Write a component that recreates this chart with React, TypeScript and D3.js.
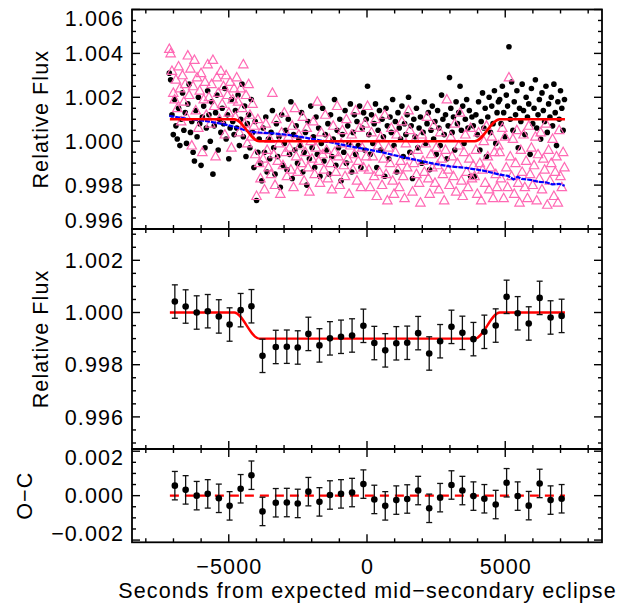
import React from "react";
import * as d3 from "d3";

const W = 633;
const H = 606;

// ---------- top panel: unbinned photometry ----------
const T_START = -7150;
const T_STEP = 47.8;

// raw flux (pink triangles)
const RAW_FLUX = [
  1.0042, 1.0040, 1.0032, 1.0022, 1.0019, 1.0028, 1.0015, 1.0034, 1.0024, 1.0009,
  1.0030, 1.0018, 1.0026, 1.0011, 1.0039, 1.0021, 1.0033, 0.9998, 1.0025, 1.0037,
  1.0014, 1.0029, 1.0006, 1.0023, 1.0031, 0.9995, 1.0019, 1.0027, 1.0012, 1.0035,
  1.0020, 1.0008, 1.0026, 1.0037, 1.0016, 0.9993, 1.0029, 1.0022, 1.0010, 1.0032,
  1.0017, 1.0025, 1.0003, 1.0030, 1.0021, 1.0013, 1.0027, 0.9997, 1.0019, 1.0024,
  1.0011, 1.0029, 1.0018, 1.0004, 1.0024, 1.0015, 1.0035, 1.0008, 1.0021, 0.9999,
  1.0026, 1.0012, 1.0002, 1.0017, 1.0007, 0.9994, 0.9975, 1.0010, 0.9990,
  0.9983, 1.0005, 0.9992, 0.9978, 1.0008, 0.9996, 0.9988, 1.0001, 0.9985, 1.0022,
  0.9994, 0.9980, 1.0010, 0.9991, 0.9999, 0.9976, 1.0004, 0.9989, 1.0013, 0.9995,
  0.9984, 1.0002, 0.9997, 0.9987, 1.0007, 0.9979, 1.0015, 0.9993, 0.9986, 1.0003,
  0.9998, 0.9990, 1.0011, 0.9982, 0.9995, 1.0006, 0.9988, 0.9977, 1.0000, 0.9992,
  1.0009, 0.9985, 0.9997, 1.0018, 0.9991, 0.9981, 1.0004, 0.9994, 0.9987, 1.0012,
  0.9996, 0.9983, 1.0001, 0.9990, 0.9978, 1.0007, 0.9995, 0.9986, 1.0016, 0.9993,
  0.9980, 0.9999, 1.0005, 0.9989, 0.9984, 1.0010, 0.9992, 0.9976, 0.9998, 1.0003,
  0.9987, 0.9994, 1.0014, 0.9982, 0.9991, 1.0006, 0.9979, 0.9997, 0.9988, 1.0008,
  0.9993,
  1.0016, 0.9987, 0.9979, 1.0004, 0.9993, 0.9984, 1.0010, 0.9975, 0.9998, 0.9986,
  1.0002, 0.9980, 0.9992, 1.0012, 0.9985, 0.9973, 0.9997, 0.9990, 1.0006, 0.9982,
  0.9976, 0.9995, 1.0003, 0.9987, 0.9979, 0.9991, 1.0009, 0.9984, 0.9974, 0.9999,
  0.9988, 1.0014, 1.0005, 0.9993, 0.9977, 0.9990, 1.0001, 0.9985, 0.9996, 0.9981,
  0.9972, 1.0003, 0.9991, 0.9986, 0.9999, 1.0011, 0.9983, 0.9976, 0.9994, 0.9988,
  1.0007, 0.9981, 0.9997, 0.9989, 0.9978, 1.0004, 0.9992, 0.9985, 0.9973, 0.9996,
  1.0019, 0.9987, 0.9980, 1.0002, 0.9993, 0.9984, 1.0008, 0.9977, 0.9990, 0.9998,
  1.0013, 0.9982, 0.9975, 0.9995, 1.0003, 0.9986, 0.9979, 0.9992, 1.0006, 0.9983,
  0.9989,
  0.9984, 0.9996, 0.9976, 1.0004, 0.9990, 0.9973, 0.9987, 1.0000, 0.9981, 1.0007,
  0.9993, 0.9978, 0.9988, 1.0002, 0.9974, 0.9995, 0.9985, 0.9979, 0.9998,
  0.9995, 0.9983, 1.0006, 0.9974, 1.0002, 0.9988, 0.9979, 1.0029, 0.9993, 0.9984,
  1.0001, 0.9976, 0.9990, 1.0005, 0.9981, 0.9972, 0.9996, 0.9986, 1.0003, 0.9979,
  0.9991, 0.9974, 1.0007, 0.9985, 0.9997, 0.9980, 0.9989, 1.0002, 0.9973, 0.9994,
  0.9983, 1.0004, 0.9978, 0.9992, 0.9987, 1.0008, 0.9971, 0.9996, 0.9982, 0.9990,
  1.0001, 0.9975, 0.9986, 0.9993, 0.9972, 1.0005, 0.9984, 0.9979, 0.9995, 0.9988,
];

// corrected flux (black dots)
const CORR_FLUX = [
  1.0031, 1.0028, 1.0012, 1.0003, 1.0019, 1.0007, 1.0001, 1.0015, 0.9998, 1.0010,
  1.0022, 1.0005, 1.0013, 0.9999, 1.0017, 1.0026, 1.0004, 1.0009, 0.9995, 0.9991,
  1.0014, 1.0002, 1.0020, 1.0008, 0.9989, 1.0011, 1.0016, 0.9997, 1.0006, 1.0023,
  1.0012, 1.0000, 1.0018, 0.9985, 1.0007, 1.0013, 1.0021, 0.9996, 1.0010, 1.0004,
  1.0015, 1.0008, 1.0024, 1.0001, 1.0012, 0.9992, 1.0006, 1.0019, 1.0009, 1.0003,
  1.0014, 1.0006, 1.0021, 0.9998, 1.0010, 1.0026, 1.0002, 1.0016, 0.9993, 1.0008,
  1.0012, 0.9997, 1.0019, 1.0004, 0.9988, 1.0009, 0.9973, 0.9995, 1.0001,
  0.9990, 0.9982, 1.0006, 0.9995, 1.0011, 0.9986, 1.0001, 0.9992, 1.0004, 1.0014,
  0.9997, 0.9985, 1.0008, 0.9993, 1.0002, 0.9979, 1.0012, 0.9989, 0.9999, 1.0005,
  0.9987, 1.0010, 0.9994, 1.0018, 0.9983, 1.0003, 0.9996, 1.0007, 0.9990, 1.0001,
  0.9998, 1.0013, 0.9986, 0.9995, 1.0004, 0.9980, 1.0009, 0.9992, 1.0016, 0.9997,
  1.0002, 0.9988, 1.0011, 0.9994, 1.0006, 0.9984, 0.9999, 1.0015, 0.9991, 1.0003,
  0.9996, 1.0008, 0.9985, 1.0012, 0.9993, 1.0001, 1.0019, 0.9989, 1.0005, 0.9997,
  1.0010, 0.9982, 1.0003, 0.9995, 1.0014, 0.9990, 1.0007, 0.9999, 1.0017, 0.9986,
  1.0004, 1.0012, 0.9994, 1.0009, 0.9998, 1.0016, 0.9988, 1.0006, 1.0013, 0.9996,
  1.0010,
  1.0025, 1.0003, 0.9994, 1.0012, 0.9999, 1.0008, 1.0017, 0.9988, 1.0005, 1.0014,
  0.9996, 1.0010, 1.0002, 0.9984, 1.0015, 1.0007, 0.9992, 1.0011, 1.0004, 1.0019,
  0.9998, 1.0009, 0.9986, 1.0013, 1.0006, 1.0001, 1.0016, 0.9993, 1.0008, 1.0003,
  1.0012, 1.0020, 0.9995, 1.0007, 0.9983, 1.0010, 1.0002, 1.0015, 0.9997, 1.0006,
  1.0011, 0.9990, 1.0004, 1.0018, 0.9999, 1.0008, 1.0013, 0.9987, 1.0005, 1.0016,
  1.0001, 1.0009, 0.9994, 1.0014, 1.0006, 0.9998, 1.0021, 1.0010, 1.0003, 1.0012,
  0.9992, 1.0007, 1.0029, 1.0015, 1.0004, 1.0011, 0.9996, 1.0018, 1.0008, 1.0013,
  1.0025, 1.0005, 1.0016, 0.9999, 1.0010, 1.0019, 1.0006, 1.0014, 0.9984, 1.0011,
  1.0007,
  0.9984, 1.0012, 1.0003, 1.0018, 0.9996, 1.0009, 1.0022, 1.0006, 1.0015, 0.9993,
  1.0011, 1.0020, 1.0004, 1.0016, 1.0008, 1.0023, 0.9999, 1.0013, 1.0018,
  1.0019, 1.0008, 1.0025, 1.0013, 1.0002, 1.0021, 1.0016, 1.0043, 1.0010, 1.0027,
  1.0005, 1.0018, 1.0012, 1.0023, 0.9997, 1.0015, 1.0009, 1.0026, 1.0014, 1.0003,
  1.0020, 1.0011, 1.0017, 0.9994, 1.0024, 1.0008, 1.0015, 1.0028, 1.0006, 1.0012,
  1.0019, 1.0001, 1.0022, 1.0014, 1.0009, 1.0025, 1.0004, 1.0017, 1.0011, 1.0020,
  1.0007, 1.0026, 1.0013, 0.9998, 1.0018, 1.0010, 1.0023, 1.0015, 1.0005, 1.0019,
];

// systematic ramp (blue)
const RAMP_T = [
  -7150, -6800, -6400, -6000, -5500, -5000, -4600, -4300, -4000, -3400, -2800, -2400,
  -1800, -1200, -600, 0, 600, 1200, 1800, 2400, 3000, 3600, 4200, 4800, 5100, 5300,
  5450, 5600, 5900, 6200, 6500, 6700, 6950, 7150,
];
const RAMP_F = [
  1.00115, 1.00108, 1.001, 1.00095, 1.00085, 1.00072, 1.00058, 1.00045, 1.0004, 1.00036,
  1.00028, 1.0002, 1.00006, 0.99992, 0.99976, 0.99963, 0.99948, 0.9993, 0.99914, 0.99898,
  0.99885, 0.99878, 0.99866, 0.99848, 0.99842, 0.99826, 0.99838, 0.99828, 0.99824, 0.99815,
  0.99812, 0.99803, 0.99806, 0.99797,
];

// eclipse model (red)
const MODEL_T = [-7130, -4800, -3900, 3900, 4800, 7160];
const MODEL_TOP = [1.001, 1.001, 1.0, 1.0, 1.001, 1.001];
const MODEL_MID = [1.0, 1.0, 0.999, 0.999, 1.0, 1.0];

// ---------- middle panel: binned ----------
const BIN_T = [
  -6950, -6560, -6160, -5760, -5360, -4970, -4570, -4180, -3780, -3300, -2900, -2505,
  -2120, -1720, -1340, -940, -540, -130, 265, 660, 1060, 1455, 1850, 2250, 2645, 3055,
  3450, 3850, 4245, 4655, 5050, 5450, 5850, 6245, 6640, 7040,
];
const BIN_F = [
  1.00042, 1.00023, 1.0, 1.00005, 0.99985, 0.99954, 1.00009, 1.00024, 0.99834, 0.99868,
  0.99869, 0.99866, 0.99918, 0.99874, 0.99901, 0.99907, 0.99912, 0.99949, 0.99883, 0.99855,
  0.99882, 0.99884, 0.99921, 0.99843, 0.9989, 0.99945, 0.99922, 0.99898, 0.99926, 0.9995,
  1.0006, 0.99997, 0.99958, 1.00056, 0.99981, 0.99987,
];
const BIN_ERR = 0.00064;

// ---------- bottom panel: residuals ----------
const RESID = [
  0.00045, 0.00026, 0.0, 0.00008, -0.00012, -0.00046, 0.00031, 0.00092, -0.00071, -0.00032,
  -0.00031, -0.00035, 0.00018, -0.00028, 0.00003, 0.00008, 0.00014, 0.00052, -0.00017, -0.00046,
  -0.0002, -0.00015, 0.00023, -0.00057, -0.00009, 0.00048, 0.00023, -0.00002, -0.00014, -0.0004,
  0.00058, -0.00002, -0.00045, 0.00055, -0.0002, -0.00014,
];

// axes
const X_DOMAIN = [-8500, 8500];
const X_MAJOR = [-5000, 0, 5000];
const X_LABELS = ["\u22125000", "0", "5000"];
const TOP_DOMAIN = [0.996, 1.006];
const TOP_MAJOR = [0.996, 0.998, 1.0, 1.002, 1.004, 1.006];
const TOP_LABELS = ["0.996", "0.998", "1.000", "1.002", "1.004", "1.006"];
const MID_DOMAIN = [0.99477, 1.0032];
const MID_MAJOR = [0.996, 0.998, 1.0, 1.002];
const MID_LABELS = ["0.996", "0.998", "1.000", "1.002"];
const OC_DOMAIN = [-0.0021, 0.0021];
const OC_MAJOR = [-0.002, 0, 0.002];
const OC_LABELS = ["\u22120.002", "0.000", "0.002"];

const L = 132;
const R = 602;
const FONT = "'Liberation Sans', Arial, Helvetica, sans-serif";
const FS = 21.5;
const LS = 1.1;
const CAP = FS * 0.358;
const PINK = "#ff69b4";
const RED = "#ff0000";
const BLUE = "#0000ff";

const x = d3.scaleLinear().domain(X_DOMAIN).range([L, R]);

function minorTicks(domain: number[], step: number) {
  const lo = Math.ceil(domain[0] / step - 1e-9);
  const hi = Math.floor(domain[1] / step + 1e-9);
  return d3.range(lo, hi + 1).map((k) => k * step);
}

function Frame({ y0, y1, y, majors, labels, minorStep }: any) {
  const xMinor = minorTicks(X_DOMAIN, 1000);
  const yMinor = minorTicks(y.domain(), minorStep);
  const isMajorX = (v: number) => X_MAJOR.some((m) => Math.abs(m - v) < 1e-6);
  const isMajorY = (v: number) => majors.some((m: number) => Math.abs(m - v) < minorStep / 100);
  const els: any[] = [];
  xMinor.forEach((v, i) => {
    const len = isMajorX(v) ? 8 : 4;
    const px = x(v);
    els.push(<line key={"xb" + i} x1={px} x2={px} y1={y1} y2={y1 - len} />);
    els.push(<line key={"xt" + i} x1={px} x2={px} y1={y0} y2={y0 + len} />);
  });
  yMinor.forEach((v, i) => {
    const len = isMajorY(v) ? 8 : 4;
    const py = y(v);
    els.push(<line key={"yl" + i} x1={L} x2={L + len} y1={py} y2={py} />);
    els.push(<line key={"yr" + i} x1={R} x2={R - len} y1={py} y2={py} />);
  });
  return (
    <g>
      <g stroke="#000" strokeWidth={1.4}>{els}</g>
      <rect x={L} y={y0} width={R - L} height={y1 - y0} fill="none" stroke="#000" strokeWidth={1.8} />
      <g fontFamily={FONT} fontSize={FS} letterSpacing={LS} fill="#000" textAnchor="end">
        {majors.map((v: number, i: number) => {
          const cy = Math.min(Math.max(y(v), y0 + 8.5), y1 - 8.5);
          return (
            <text key={"lab" + i} x={123 + LS} y={cy + CAP}>
              {labels[i]}
            </text>
          );
        })}
      </g>
    </g>
  );
}

export default function App() {
  const TOP = [9.5, 229];
  const MID = [229, 449];
  const BOT = [449, 542.3];
  const yTop = d3.scaleLinear().domain(TOP_DOMAIN).range([TOP[1], TOP[0]]);
  const yMid = d3.scaleLinear().domain(MID_DOMAIN).range([MID[1], MID[0]]);
  const yOc = d3.scaleLinear().domain(OC_DOMAIN).range([BOT[1], BOT[0]]);

  const times = RAW_FLUX.map((_, i) => T_START + i * T_STEP);

  const rampLine = d3
    .line<number>()
    .x((_, i) => x(RAMP_T[i]))
    .y((d) => yTop(d));
  const modelTop = d3
    .line<number>()
    .x((_, i) => x(MODEL_T[i]))
    .y((d) => yTop(d))
    .curve(d3.curveMonotoneX);
  const modelMid = d3
    .line<number>()
    .x((_, i) => x(MODEL_T[i]))
    .y((d) => yMid(d))
    .curve(d3.curveMonotoneX);

  const tri = (cx: number, cy: number) =>
    `M${cx},${cy - 5}L${cx + 4.7},${cy + 3.4}L${cx - 4.7},${cy + 3.4}Z`;

  return (
    <svg
      width={W}
      height={H}
      style={{ position: "absolute", left: 0, top: 0, background: "#fff" }}
      xmlns="http://www.w3.org/2000/svg"
    >
      <rect x={0} y={0} width={W} height={H} fill="#fff" />

      {/* top panel */}
      <g>
        {CORR_FLUX.map((v, i) => (
          <circle key={"b" + i} cx={x(times[i])} cy={yTop(v)} r={2.8} fill="#000" />
        ))}
        {RAW_FLUX.map((v, i) => (
          <path key={"p" + i} d={tri(x(times[i]), yTop(v))} fill="none" stroke={PINK} strokeWidth={1.2} />
        ))}
        <path d={rampLine(RAMP_F) || ""} fill="none" stroke={BLUE} strokeWidth={2.2} strokeDasharray="5 1" />
        <path d={modelTop(MODEL_TOP) || ""} fill="none" stroke={RED} strokeWidth={2.6} />
      </g>
      <Frame y0={TOP[0]} y1={TOP[1]} y={yTop} majors={TOP_MAJOR} labels={TOP_LABELS} minorStep={0.0005} />

      {/* middle panel */}
      <g>
        <path d={modelMid(MODEL_MID) || ""} fill="none" stroke={RED} strokeWidth={2.4} />
        {BIN_F.map((v, i) => {
          const cx = x(BIN_T[i]);
          const ya = yMid(v + BIN_ERR);
          const yb = yMid(v - BIN_ERR);
          return (
            <g key={"m" + i} stroke="#111" strokeWidth={1.3}>
              <line x1={cx} x2={cx} y1={ya} y2={yb} />
              <line x1={cx - 3} x2={cx + 3} y1={ya} y2={ya} />
              <line x1={cx - 3} x2={cx + 3} y1={yb} y2={yb} />
              <circle cx={cx} cy={yMid(v)} r={3.3} fill="#000" stroke="none" />
            </g>
          );
        })}
      </g>
      <Frame y0={MID[0]} y1={MID[1]} y={yMid} majors={MID_MAJOR} labels={MID_LABELS} minorStep={0.0005} />

      {/* bottom panel */}
      <g>
        <line
          x1={x(MODEL_T[0])}
          x2={x(MODEL_T[MODEL_T.length - 1])}
          y1={yOc(0)}
          y2={yOc(0)}
          stroke={RED}
          strokeWidth={2.4}
          strokeDasharray="9 6"
        />
        {RESID.map((v, i) => {
          const cx = x(BIN_T[i]);
          const ya = yOc(v + BIN_ERR);
          const yb = yOc(v - BIN_ERR);
          return (
            <g key={"r" + i} stroke="#111" strokeWidth={1.3}>
              <line x1={cx} x2={cx} y1={ya} y2={yb} />
              <line x1={cx - 3} x2={cx + 3} y1={ya} y2={ya} />
              <line x1={cx - 3} x2={cx + 3} y1={yb} y2={yb} />
              <circle cx={cx} cy={yOc(v)} r={3.3} fill="#000" stroke="none" />
            </g>
          );
        })}
      </g>
      <Frame y0={BOT[0]} y1={BOT[1]} y={yOc} majors={OC_MAJOR} labels={OC_LABELS} minorStep={0.0005} />

      {/* x tick labels and titles */}
      <g fontFamily={FONT} fontSize={FS} letterSpacing={LS} fill="#000">
        {X_MAJOR.map((v, i) => (
          <text key={"xl" + i} x={x(v) + LS / 2} y={574} textAnchor="middle">
            {X_LABELS[i]}
          </text>
        ))}
        <text x={367 + LS / 2} y={598} textAnchor="middle">
          Seconds from expected mid{"\u2212"}secondary eclipse
        </text>
        <text transform={`translate(${40 + CAP},${(TOP[0] + TOP[1]) / 2}) rotate(-90)`} textAnchor="middle">
          Relative Flux
        </text>
        <text transform={`translate(${40 + CAP},${(MID[0] + MID[1]) / 2}) rotate(-90)`} textAnchor="middle">
          Relative Flux
        </text>
        <text transform={`translate(${24 + CAP},${(BOT[0] + BOT[1]) / 2}) rotate(-90)`} textAnchor="middle">
          O{"\u2212"}C
        </text>
      </g>
    </svg>
  );
}
